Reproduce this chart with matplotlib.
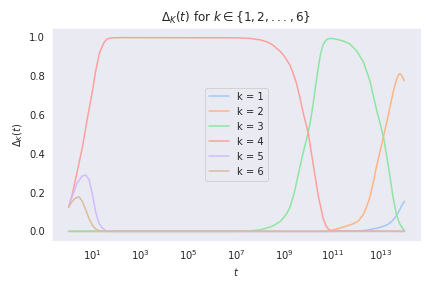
import matplotlib
matplotlib.use("Agg")
import matplotlib.pyplot as plt
import numpy as np
import seaborn as sns

# log10(t) positions and values, one pair per k
k1_logt = [0, 11.0, 12.0, 12.35, 12.6, 12.9, 13.1, 13.32, 13.5, 13.6, 13.7, 13.8, 13.9, 14.0]
k1_vals = [0, 0, 0.002, 0.005, 0.01, 0.018, 0.025, 0.036, 0.055, 0.07, 0.088, 0.11, 0.135, 0.155]

k2_logt = [0, 10.6, 10.8, 11.0, 11.25, 11.5, 11.8, 12.07, 12.28, 12.42, 12.56, 12.7, 12.83,
           13.0, 13.15, 13.28, 13.39, 13.52, 13.6, 13.67, 13.73, 13.8, 13.87, 13.93, 14.0]
k2_vals = [0, 0, 0.002, 0.007, 0.015, 0.024, 0.036, 0.052, 0.085, 0.125, 0.175, 0.25, 0.33,
           0.42, 0.50, 0.57, 0.635, 0.71, 0.75, 0.78, 0.80, 0.811, 0.806, 0.792, 0.775]

k3_logt = [0, 7.0, 7.5, 8.0, 8.4, 8.6, 8.81, 9.0, 9.12, 9.23, 9.4, 9.5, 9.64, 9.78, 9.9,
           9.99, 10.1, 10.2, 10.3, 10.4, 10.5, 10.61, 10.72, 10.82, 10.95, 11.1, 11.3, 11.5,
           11.72, 12.0, 12.28, 12.56, 12.83, 13.0, 13.15, 13.28, 13.39, 13.52, 13.67, 13.8,
           13.94, 14.0]
k3_vals = [0, 0, 0.002, 0.008, 0.022, 0.034, 0.05, 0.076, 0.098, 0.125, 0.195, 0.25, 0.33,
           0.405, 0.465, 0.51, 0.58, 0.66, 0.75, 0.835, 0.91, 0.96, 0.983, 0.991, 0.993,
           0.99, 0.985, 0.977, 0.965, 0.93, 0.875, 0.775, 0.63, 0.55, 0.47, 0.375, 0.29,
           0.18, 0.085, 0.04, 0.012, 0.005]

k4_logt = [0, 0.15, 0.36, 0.57, 0.78, 0.99, 1.12, 1.29, 1.47, 1.6, 1.8, 2.2, 7.0, 7.56, 8.0,
           8.27, 8.5, 8.81, 9.0, 9.23, 9.37, 9.5, 9.64, 9.78, 9.99, 10.2, 10.4, 10.61,
           10.72, 10.82, 10.95, 14.0]
k4_vals = [0.125, 0.19, 0.31, 0.43, 0.58, 0.72, 0.82, 0.92, 0.97, 0.99, 0.996, 0.997, 0.996,
           0.993, 0.985, 0.975, 0.96, 0.928, 0.9, 0.855, 0.81, 0.762, 0.69, 0.61, 0.506,
           0.343, 0.188, 0.068, 0.03, 0.013, 0.003, 0]

k5_logt = [0, 0.15, 0.36, 0.57, 0.71, 0.85, 0.99, 1.12, 1.26, 1.4, 1.54, 1.7, 14.0]
k5_vals = [0.125, 0.18, 0.25, 0.285, 0.29, 0.267, 0.19, 0.104, 0.044, 0.018, 0.004, 0, 0]

k6_logt = [0, 0.15, 0.29, 0.43, 0.57, 0.71, 0.85, 0.99, 1.12, 1.26, 1.4, 14.0]
k6_vals = [0.125, 0.155, 0.172, 0.178, 0.155, 0.112, 0.066, 0.032, 0.013, 0.004, 0, 0]

series = [
    (k1_logt, k1_vals),
    (k2_logt, k2_vals),
    (k3_logt, k3_vals),
    (k4_logt, k4_vals),
    (k5_logt, k5_vals),
    (k6_logt, k6_vals),
]

tick_exponents = [1, 3, 5, 7, 9, 11, 13]


def main() -> None:
    sns.set_style("dark")
    sns.set_palette("pastel")
    fig, ax = plt.subplots(figsize=(6, 4), dpi=72)

    for k, (logt, vals) in enumerate(series, start=1):
        ax.plot(10 ** np.array(logt, dtype=float), vals, label=f"k = {k}")

    ax.set_xscale("log")
    ax.set_xticks([10.0 ** e for e in tick_exponents])
    ax.minorticks_off()
    ax.set_title(r"$\Delta_K(t)$ for $k \in \{1, 2, ..., 6\}$")
    ax.set_xlabel(r"$t$")
    ax.set_ylabel(r"$\Delta_K(t)$")
    ax.legend(loc="center")

    fig.subplots_adjust(left=0.120, right=0.975, top=0.903, bottom=0.163)
    fig.savefig("out.png", dpi=72)
    plt.close(fig)


if __name__ == "__main__":
    main()
